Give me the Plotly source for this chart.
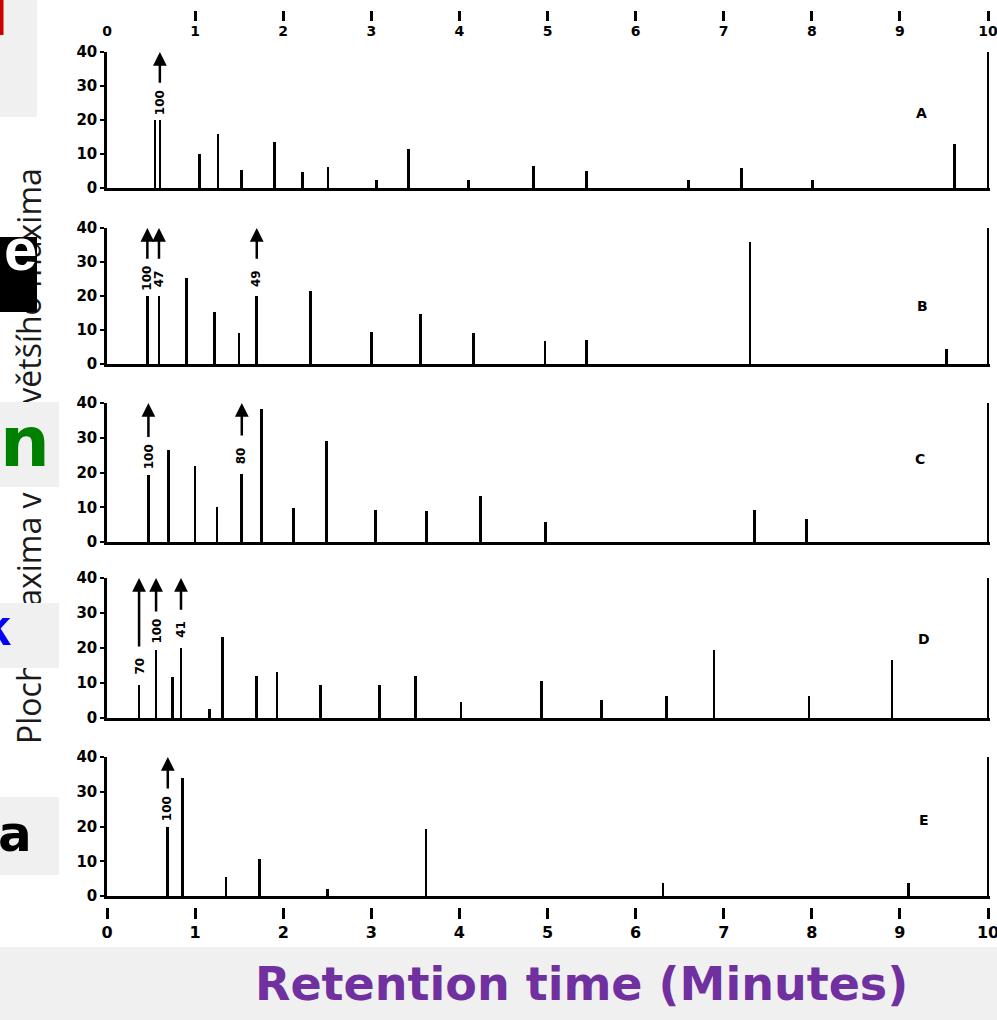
import plotly.graph_objects as go

# ---------------- data ----------------
minute_ticks = [0, 1, 2, 3, 4, 5, 6, 7, 8, 9, 10]
area_ticks = [0, 10, 20, 30, 40]
panel_names = ["A", "B", "C", "D", "E"]

A_time = [0.545, 0.60, 1.05, 1.26, 1.53, 1.90, 2.22, 2.51, 3.06, 3.42, 4.10, 4.84, 5.44, 6.60, 7.20, 8.01, 9.62, 10.0]
A_area = [20, 20, 10, 16, 5.3, 13.4, 4.8, 6.3, 2.4, 11.5, 2.4, 6.5, 5, 2.5, 6, 2.5, 13, 40]
A_off_time = [0.60]
A_off_label = ["100"]

B_time = [0.458, 0.59, 0.90, 1.22, 1.50, 1.70, 2.31, 3.00, 3.56, 4.16, 4.97, 5.44, 7.30, 9.53, 10.0]
B_area = [20, 20, 25.4, 15.4, 9.2, 20, 21.5, 9.5, 14.6, 9, 6.9, 7, 36, 4.4, 40]
B_off_time = [0.458, 0.59, 1.70]
B_off_label = ["100", "47", "49"]

C_time = [0.47, 0.70, 1.00, 1.25, 1.53, 1.75, 2.12, 2.49, 3.05, 3.63, 4.24, 4.98, 7.35, 7.94, 10.0]
C_area = [19.3, 26.5, 21.9, 10.2, 19.7, 38.3, 9.8, 29, 9.1, 8.8, 13.3, 5.8, 9.1, 6.7, 40]
C_off_time = [0.47, 1.53]
C_off_label = ["100", "80"]

D_time = [0.364, 0.557, 0.745, 0.84, 1.16, 1.31, 1.70, 1.93, 2.42, 3.09, 3.50, 4.02, 4.93, 5.61, 6.35, 6.89, 7.97, 8.91, 10.0]
D_area = [9.5, 19.5, 11.7, 20, 2.7, 23.1, 11.9, 13.1, 9.5, 9.5, 11.9, 4.5, 10.7, 5.2, 6.4, 19.5, 6.2, 16.7, 40]
D_off_time = [0.364, 0.557, 0.84]
D_off_label = ["70", "100", "41"]

E_time = [0.69, 0.86, 1.35, 1.73, 2.50, 3.62, 6.31, 9.10, 10.0]
E_area = [20, 34, 5.5, 10.6, 2, 19.2, 3.6, 3.6, 40]
E_off_time = [0.69]
E_off_label = ["100"]

y_title = "Plocha maxima v % největšího maxima"
x_title = "Retention time (Minutes)"

# ---------------- layout helpers ----------------
W, H = 997, 1020


def fx(p):
    return p / W


def fy(p):
    return 1 - p / H


panel_px = [(52, 188), (228, 364), (403, 542), (578, 718), (757, 896)]
letter_pos = [(9.25, 22), (9.26, 17), (9.23, 24), (9.27, 22.6), (9.27, 22)]
x_left = 107
px_per_min = 88.1
x_max = 10.02
x_dom = [fx(x_left), fx(x_left + px_per_min * x_max)]

panels = [
    (A_time, A_area, A_off_time, A_off_label),
    (B_time, B_area, B_off_time, B_off_label),
    (C_time, C_area, C_off_time, C_off_label),
    (D_time, D_area, D_off_time, D_off_label),
    (E_time, E_area, E_off_time, E_off_label),
]

fig = go.Figure()
annotations = []
lay = {}
num_font = dict(family="DejaVu Sans", size=15, color="black", weight="bold")

for i, (t, v, ot, ol) in enumerate(panels):
    n = i + 1
    xa = "x" if n == 1 else f"x{n}"
    ya = "y" if n == 1 else f"y{n}"
    fig.add_trace(go.Bar(x=t, y=v, width=0.03, marker=dict(color="black", line=dict(width=0)),
                         xaxis=xa, yaxis=ya, showlegend=False, hoverinfo="skip"))
    top, bot = panel_px[i]
    lay[f"xaxis{n}" if n > 1 else "xaxis"] = dict(
        domain=x_dom, range=[0, x_max], anchor=ya, showline=True, linecolor="black", linewidth=2.5,
        showticklabels=False, ticks="", showgrid=False, zeroline=False, fixedrange=True, automargin=False)
    lay[f"yaxis{n}" if n > 1 else "yaxis"] = dict(
        domain=[fy(bot), fy(top)], range=[0, 40], anchor=xa, showline=True, linecolor="black",
        linewidth=2.5, ticks="outside", ticklen=4, tickwidth=2, tickcolor="black",
        tickvals=area_ticks, tickfont=num_font, showgrid=False, zeroline=False, fixedrange=True,
        automargin=False)
    for tt, lab in zip(ot, ol):
        hv = v[t.index(tt)]
        annotations.append(dict(x=tt, y=hv + 5.2, xref=xa, yref=ya, text=lab, textangle=-90,
                                xanchor="center", yanchor="middle", showarrow=False,
                                font=dict(family="DejaVu Sans", size=12, color="black", weight="bold")))
        annotations.append(dict(x=tt, y=40, xref=xa, yref=ya, ax=tt, ay=hv + 10.5, axref=xa, ayref=ya,
                                text="", showarrow=True, arrowhead=2, arrowsize=1.1, arrowwidth=2.5,
                                arrowcolor="black", standoff=0))
    lx, ly = letter_pos[i]
    annotations.append(dict(x=lx, y=ly, xref=xa, yref=ya, text=panel_names[i], showarrow=False,
                            xanchor="center", yanchor="middle",
                            font=dict(family="DejaVu Sans", size=14, color="black", weight="bold")))

# top and bottom minute scales
lay["xaxis6"] = dict(overlaying="x", anchor="free", position=fy(21), side="bottom", domain=x_dom,
                     range=[0, x_max], ticks="inside", ticklen=10, tickwidth=3, tickcolor="black",
                     tickvals=minute_ticks, ticklabeloverflow="allow",
                     tickfont=dict(family="DejaVu Sans", size=14, color="black", weight="bold"),
                     showline=False, showgrid=False, zeroline=False, fixedrange=True, automargin=False)
lay["xaxis7"] = dict(overlaying="x5", anchor="free", position=fy(907), side="bottom", domain=x_dom,
                     range=[0, x_max], ticks="outside", ticklen=11, tickwidth=3, tickcolor="black",
                     tickvals=minute_ticks, ticklabeloverflow="allow",
                     tickfont=dict(family="DejaVu Sans", size=16, color="black", weight="bold"),
                     showline=False, showgrid=False, zeroline=False, fixedrange=True, automargin=False)
fig.add_trace(go.Scatter(x=[0], y=[0], xaxis="x6", yaxis="y", mode="markers",
                         marker=dict(opacity=0), showlegend=False, hoverinfo="skip"))
fig.add_trace(go.Scatter(x=[0], y=[0], xaxis="x7", yaxis="y5", mode="markers",
                         marker=dict(opacity=0), showlegend=False, hoverinfo="skip"))

# rotated y title (partly covered by slide boxes)
annotations.append(dict(x=fx(29), y=fy(456), xref="paper", yref="paper", text=y_title, textangle=-90,
                        xanchor="center", yanchor="middle", showarrow=False,
                        font=dict(family="Open Sans", size=32, color="#1a1a1a")))

GRAY = "#F0F0F0"


def box(x_right, y_top, y_bot, color):
    return dict(x=fx(x_right), y=fy((y_top + y_bot) / 2), xref="paper", yref="paper", xanchor="right",
                yanchor="middle", text=" ", showarrow=False, width=x_right + 60, height=y_bot - y_top,
                bgcolor=color, borderpad=0, borderwidth=0)


def letter(x_right, y_mid, ch, color, size, family="Liberation Sans"):
    return dict(x=fx(x_right), y=fy(y_mid), xref="paper", yref="paper", xanchor="right", yanchor="middle",
                text=ch, showarrow=False, font=dict(family=family, size=size, color=color, weight="bold"))


annotations += [
    box(37, 237, 312, "black"), letter(39, 249, "e", "white", 60),
    box(59, 402, 487, GRAY), letter(52, 442, "n", "#008000", 70, "DejaVu Sans"),
    box(59, 603, 668, GRAY), letter(13, 627, "k", "#0000FF", 52),
    box(59, 797, 875, GRAY), letter(34, 834, "a", "black", 50, "DejaVu Sans"),
]

annotations.append(dict(x=fx(581), y=fy(984), xref="paper", yref="paper", text=x_title, showarrow=False,
                        xanchor="center", yanchor="middle",
                        font=dict(family="DejaVu Sans", size=46, color="#7030A0", weight="bold")))

shapes = [
    dict(type="rect", xref="paper", yref="paper", x0=0, x1=1, y0=0, y1=fy(947), fillcolor=GRAY,
         line=dict(width=0), layer="below"),
    dict(type="rect", xref="paper", yref="paper", x0=0, x1=fx(37), y0=fy(117), y1=1, fillcolor=GRAY,
         line=dict(width=0), layer="below"),
    dict(type="rect", xref="paper", yref="paper", x0=0, x1=fx(3.5), y0=fy(35), y1=1, fillcolor="#CC0000",
         line=dict(width=0), layer="above"),
]

fig.update_layout(width=W, height=H, margin=dict(l=0, r=0, t=0, b=0, pad=0, autoexpand=False),
                  paper_bgcolor="white", plot_bgcolor="rgba(0,0,0,0)", showlegend=False,
                  annotations=annotations, shapes=shapes, bargap=0, **lay)

fig.write_html("out.html")
